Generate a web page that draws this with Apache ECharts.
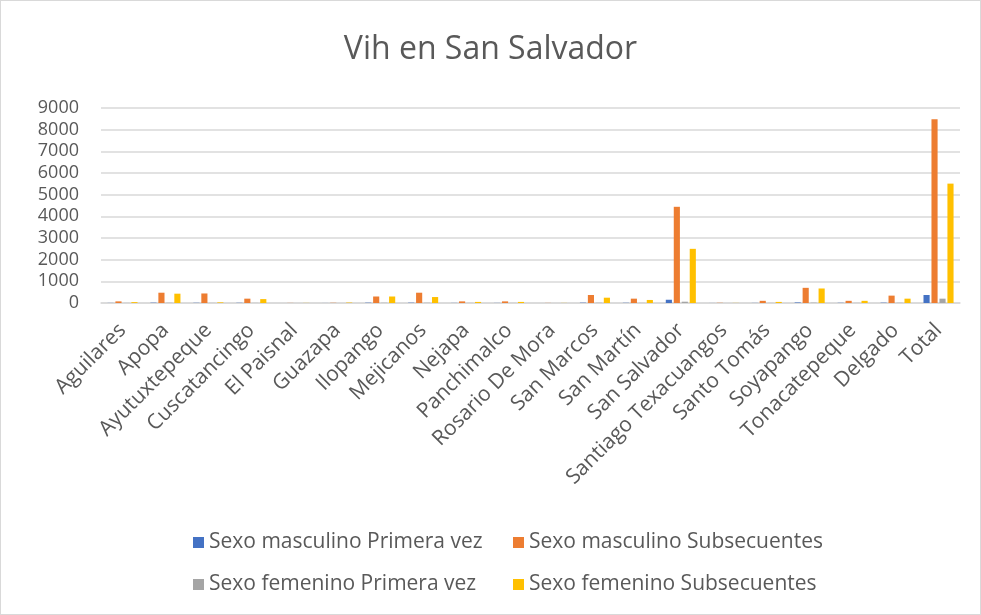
<!DOCTYPE html>
<html>
<head>
<meta charset="utf-8">
<script src="https://cdn.jsdelivr.net/npm/echarts@6/dist/echarts.min.js"></script>
<style>
  html, body { margin: 0; padding: 0; background: #fff; }
  #chart { width: 979px; height: 613px; border: 1px solid #d9d9d9; }
</style>
</head>
<body>
<div id="chart"></div>
<script>
var municipios = ['Aguilares', 'Apopa', 'Ayutuxtepeque', 'Cuscatancingo', 'El Paisnal', 'Guazapa',
    'Ilopango', 'Mejicanos', 'Nejapa', 'Panchimalco', 'Rosario De Mora', 'San Marcos', 'San Martín',
    'San Salvador', 'Santiago Texacuangos', 'Santo Tomás', 'Soyapango', 'Tonacatepeque', 'Delgado', 'Total'];

var masc_primera = [5, 15, 10, 10, 0, 2, 15, 15, 5, 5, 0, 15, 10, 150, 2, 5, 25, 10, 15, 370];
var masc_subsec  = [75, 475, 440, 200, 5, 10, 300, 475, 75, 75, 5, 370, 200, 4440, 10, 100, 700, 100, 340, 8480];
var fem_primera  = [3, 10, 5, 5, 0, 1, 10, 10, 3, 3, 0, 10, 5, 60, 1, 3, 15, 5, 10, 200];
var fem_subsec   = [40, 430, 30, 180, 5, 20, 300, 275, 50, 50, 5, 245, 140, 2500, 5, 50, 670, 100, 200, 5510];

var yTicks = [0, 1000, 2000, 3000, 4000, 5000, 6000, 7000, 8000, 9000];

var nombres = ['Sexo masculino Primera vez', 'Sexo masculino Subsecuentes',
    'Sexo femenino Primera vez', 'Sexo femenino Subsecuentes'];
var colores = ['#4472C4', '#ED7D31', '#A5A5A5', '#FFC000'];
var valores = [masc_primera, masc_subsec, fem_primera, fem_subsec];

var fuente = 'Open Sans';
var chart = echarts.init(document.getElementById('chart'));

var series = [];
for (var i = 0; i < nombres.length; i++) {
    series.push({
        name: nombres[i],
        type: 'bar',
        data: valores[i],
        itemStyle: { color: colores[i] },
        barGap: '30%',
        barCategoryGap: '30%'
    });
}

// una leyenda por elemento para fijar la cuadricula 2x2
var legendPos = [[187, 526], [507, 526], [187, 568], [507, 568]];
var legends = [];
for (var j = 0; j < nombres.length; j++) {
    legends.push({
        data: [nombres[j]],
        left: legendPos[j][0],
        top: legendPos[j][1],
        icon: 'rect',
        itemWidth: 11,
        itemHeight: 11,
        itemGap: 4,
        textStyle: { fontFamily: fuente, fontSize: 21, color: '#595959' }
    });
}

var option = {
    animation: false,
    title: {
        text: 'Vih en San Salvador',
        left: 'center',
        top: 28,
        textStyle: { fontFamily: fuente, fontSize: 32, fontWeight: 'normal', color: '#595959' }
    },
    legend: legends,
    grid: { left: 100, right: 20, top: 107, bottom: 311 },
    xAxis: {
        type: 'category',
        data: municipios,
        axisLine: { lineStyle: { color: '#d9d9d9', width: 1.5 } },
        axisTick: { show: false },
        axisLabel: {
            interval: 0,
            rotate: 45,
            margin: 24,
            fontFamily: fuente,
            fontSize: 21,
            color: '#595959'
        }
    },
    yAxis: {
        type: 'value',
        min: yTicks[0],
        max: yTicks[yTicks.length - 1],
        interval: 1000,
        axisLine: { show: false },
        axisTick: { show: false },
        splitLine: { lineStyle: { color: '#d9d9d9', width: 1.5 } },
        axisLabel: {
            fontFamily: fuente, fontSize: 18, color: '#595959', margin: 22,
            formatter: function (v) { return String(v); }
        }
    },
    series: series
};
chart.setOption(option);
</script>
</body>
</html>
